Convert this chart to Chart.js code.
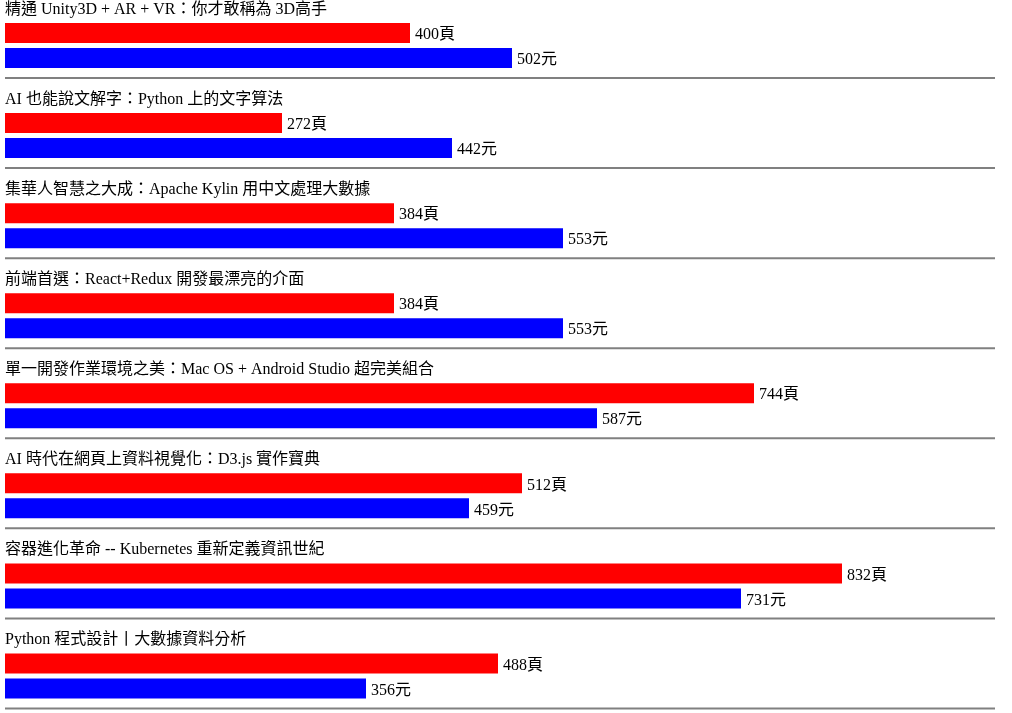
<!DOCTYPE html>
<html>
<head>
<meta charset="utf-8">
<script src="https://cdn.jsdelivr.net/npm/chart.js@4"></script>
<style>
  html, body { margin: 0; padding: 0; overflow: hidden; background: #fff; }
  #wrap { width: 1012px; height: 721px; }
</style>
</head>
<body>
<div id="wrap"><canvas id="books"></canvas></div>
<script>
const titles = [
    "精通 Unity3D + AR + VR：你才敢稱為 3D高手",
    "AI 也能說文解字：Python 上的文字算法",
    "集華人智慧之大成：Apache Kylin 用中文處理大數據",
    "前端首選：React+Redux 開發最漂亮的介面",
    "單一開發作業環境之美：Mac OS + Android Studio 超完美組合",
    "AI 時代在網頁上資料視覺化：D3.js 實作寶典",
    "容器進化革命 -- Kubernetes 重新定義資訊世紀",
    "Python 程式設計丨大數據資料分析",
];
const pages = [400, 272, 384, 384, 744, 512, 832, 488];
const prices = [502, 442, 553, 553, 587, 459, 731, 356];

const FONT = '16px "Liberation Serif", "Noto Sans CJK TC", serif';

// titles above each group, value labels, grey separators
const bookText = {
    id: "bookText",
    afterDatasetsDraw(chart) {
        const ctx = chart.ctx;
        const y = chart.scales.y;
        ctx.save();
        ctx.font = FONT;
        ctx.fillStyle = "#000";
        ctx.textAlign = "left";
        ctx.textBaseline = "middle";
        titles.forEach((t, i) => {
            const cy = y.getPixelForValue(i);
            ctx.fillText(t, 5, cy - 36);
            ctx.strokeStyle = "#808080";
            ctx.lineWidth = 2;
            ctx.beginPath();
            ctx.moveTo(5, cy + 32.5);
            ctx.lineTo(995, cy + 32.5);
            ctx.stroke();
        });
        const units = ["頁", "元"];
        chart.data.datasets.forEach((ds, d) => {
            chart.getDatasetMeta(d).data.forEach((bar, i) => {
                ctx.fillText(ds.data[i] + units[d], bar.x + 5, bar.y + 2);
            });
        });
        ctx.restore();
    },
};

new Chart(document.getElementById("books"), {
    type: "bar",
    data: {
        labels: titles,
        datasets: [
            {
                label: "頁數",
                data: pages,
                backgroundColor: "rgb(255, 0, 0)",
                base: -5,
                categoryPercentage: 50 / 90,
                barPercentage: 0.8,
            },
            {
                label: "價格",
                data: prices,
                backgroundColor: "rgb(0, 0, 255)",
                base: -5,
                categoryPercentage: 50 / 90,
                barPercentage: 0.8,
            },
        ],
    },
    options: {
        indexAxis: "y",
        responsive: true,
        maintainAspectRatio: false,
        animation: false,
        layout: { padding: { top: 0.5, left: 0, right: 0, bottom: 0 } },
        scales: {
            x: { display: false, min: -10, max: 1002 },
            y: { display: false },
        },
        plugins: {
            legend: { display: false },
            tooltip: { enabled: false },
        },
    },
    plugins: [bookText],
});
</script>
</body>
</html>
